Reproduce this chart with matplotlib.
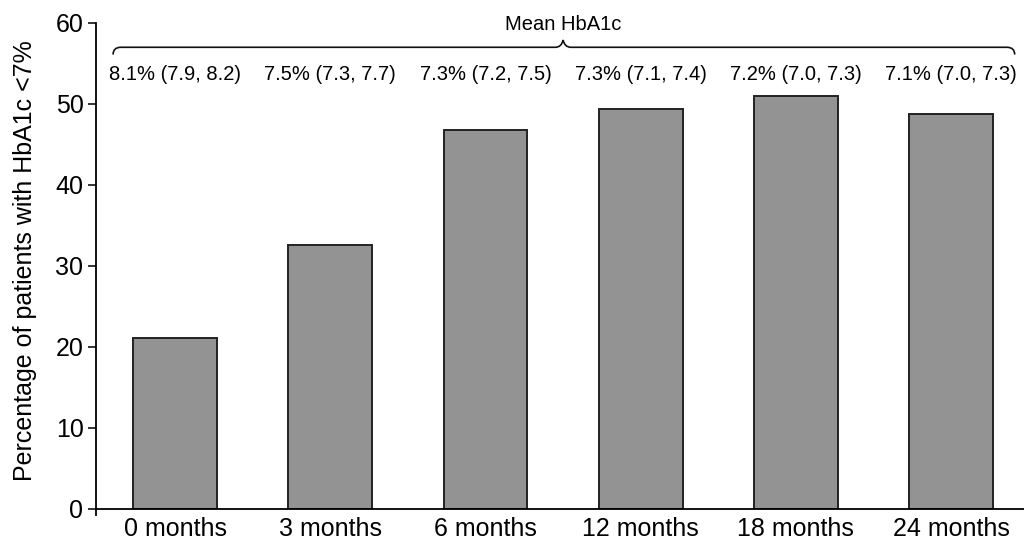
import matplotlib
matplotlib.use("Agg")
import matplotlib.pyplot as plt
from matplotlib.path import Path
from matplotlib.patches import PathPatch
import numpy as np

categories = ["0 months", "3 months", "6 months", "12 months", "18 months", "24 months"]
values = [21.1, 32.6, 46.8, 49.4, 51.0, 48.8]
mean_labels = ["8.1% (7.9, 8.2)", "7.5% (7.3, 7.7)", "7.3% (7.2, 7.5)",
               "7.3% (7.1, 7.4)", "7.2% (7.0, 7.3)", "7.1% (7.0, 7.3)"]
yticks = [0, 10, 20, 30, 40, 50, 60]

plt.rcParams['font.family'] = ['Liberation Sans', 'DejaVu Sans']

fig = plt.figure(figsize=(10.24, 5.42), dpi=100)
ax = fig.add_axes([0.09375, 0.0609, 0.90625, 0.8967])

x = np.arange(len(categories))
ax.bar(x, values, width=0.54, color="#939393", edgecolor="#222222", linewidth=1.4, zorder=2)

ax.set_xlim(-0.51, 5.47)
ax.set_ylim(0, 60)
ax.set_yticks(yticks)
ax.set_xticks(x)
ax.set_xticklabels(categories, fontsize=18)
ax.tick_params(axis='y', labelsize=18, length=6, width=1.2, direction='out', pad=3, color="#111111")
ax.tick_params(axis='x', length=0, pad=6)
for s in ["top", "right"]:
    ax.spines[s].set_visible(False)
ax.spines["left"].set_linewidth(1.3)
ax.spines["bottom"].set_linewidth(1.3)
ax.spines["left"].set_bounds(-0.8, 60)
ax.set_ylabel("Percentage of patients with HbA1c <7%", fontsize=18)
ax.yaxis.set_label_coords(-0.064, 0.512)

# annotation texts
for xi, lab in zip(x, mean_labels):
    ax.text(xi, 53.6, lab, ha='center', va='center', fontsize=14.5)

# brace
xl = x[0] - 0.40
xr = x[-1] + 0.41
xc = (x[0] + x[-1]) / 2
y_line = 57.0
y_end = 56.1
y_cusp = 57.9
r = 0.05
verts = [
    (xl, y_end), (xl, y_line), (xl + r, y_line),
    (xc - r, y_line), (xc - 0.01, y_line), (xc, y_cusp),
    (xc + 0.01, y_line), (xc + r, y_line),
    (xr - r, y_line), (xr, y_line), (xr, y_end),
]
codes = [Path.MOVETO, Path.CURVE3, Path.CURVE3,
         Path.LINETO, Path.CURVE3, Path.CURVE3,
         Path.CURVE3, Path.CURVE3,
         Path.LINETO, Path.CURVE3, Path.CURVE3]
ax.add_patch(PathPatch(Path(verts, codes), fill=False, lw=1.2, edgecolor="#111111", clip_on=False))
ax.text(xc, 59.8, "Mean HbA1c", ha='center', va='center', fontsize=14.5)

fig.savefig("out.png", dpi=100)
